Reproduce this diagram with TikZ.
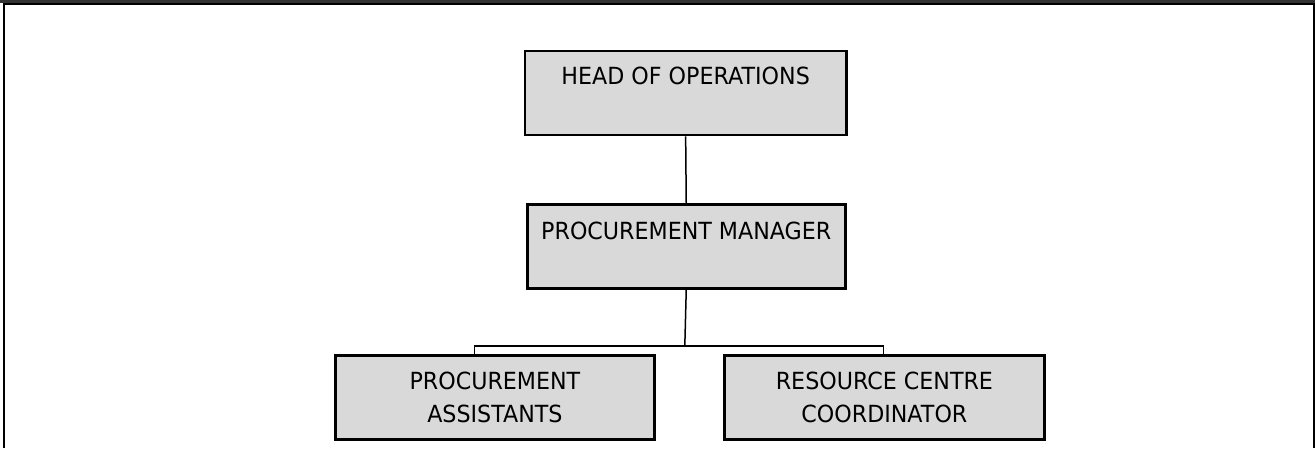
\documentclass[tikz,border=0pt]{standalone}
\usepackage{fontspec}
\setmainfont{DejaVu Sans}[FakeStretch=0.94]
\begin{document}
\begin{tikzpicture}[x=1pt,y=-1pt,
  box/.style={draw=black,line width=2.8pt,fill=boxgray,inner sep=0pt,
    font=\fontsize{23.6}{33}\selectfont,align=center},
  link/.style={draw=black,line width=1.5pt}]
\definecolor{boxgray}{HTML}{D9D9D9}
\definecolor{bargray}{HTML}{333333}
\useasboundingbox (0,0) rectangle (1315,448);
\fill[white] (0,0) rectangle (1315,448);
% frame
\fill[bargray] (0,0) rectangle (1315,3.2);
\draw[black,line width=2.2pt] (4,448) -- (4,4.2) -- (1314,4.2) -- (1314,448);
% boxes
\node[box,minimum width=321.5pt,text height=34pt,text depth=50pt,anchor=north west] (head) at (523.5,49.5) {HEAD OF OPERATIONS};
\node[box,minimum width=318.3pt,text height=35pt,text depth=48.5pt,anchor=north west] (pm) at (525.7,203.3) {PROCUREMENT MANAGER};
\node[box,minimum width=319pt,minimum height=84pt,anchor=north west] (pa) at (334,354) {PROCUREMENT\\ASSISTANTS};
\node[box,minimum width=319.4pt,minimum height=84pt,anchor=north west] (rcc) at (723.3,354) {RESOURCE CENTRE\\COORDINATOR};
% connectors
\coordinate (bus) at (684.8,346);
\coordinate (busl) at (474.3,346);
\coordinate (busr) at (883.3,346);
\draw[link] (head.south) -- (pm.north);
\draw[link] (pm.south) -- (bus);
\draw[link] (busl |- pa.north) -- (busl) -- (busr) -- (busr |- rcc.north);
\end{tikzpicture}
\end{document}
